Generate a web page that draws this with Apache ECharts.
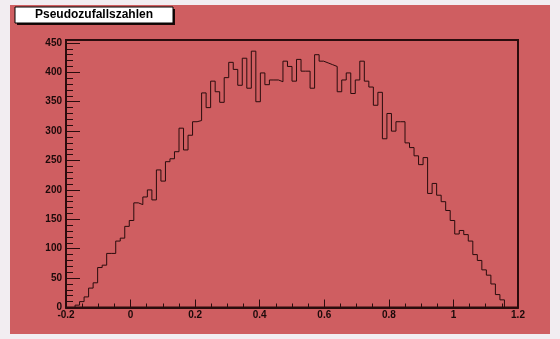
<!DOCTYPE html>
<html>
<head>
<meta charset="utf-8">
<title>Pseudozufallszahlen</title>
<script src="https://cdn.jsdelivr.net/npm/echarts@6/dist/echarts.min.js"></script>
<style>
  html, body { margin: 0; padding: 0; background: #f2edf1; }
  #chart { width: 560px; height: 339px; }
</style>
</head>
<body>
<div id="chart"></div>
<script>
// Histogram range and binning
const histTitle = 'Pseudozufallszahlen';
const binLow = -0.2;
const binHigh = 1.2;
const nBins = 100;

// Entries per bin
const binCounts = [
  0, 0, 4, 10, 18, 33, 42, 68, 72, 92,
  92, 113, 118, 138, 148, 178, 175, 188, 200, 183,
  234, 215, 248, 253, 265, 305, 268, 293, 316, 318,
  365, 340, 385, 367, 349, 391, 417, 405, 378, 424,
  373, 436, 350, 399, 379, 387, 387, 384, 419, 410,
  385, 422, 402, 402, 373, 430, 419, 416, 413, 410,
  367, 387, 399, 364, 387, 419, 385, 375, 344, 366,
  287, 330, 300, 316, 316, 280, 272, 258, 243, 255,
  194, 211, 191, 180, 165, 148, 125, 131, 124, 113,
  90, 80, 64, 55, 40, 22, 13, 0, 0, 0
];

// Axis ranges
const xTicks = { min: -0.2, max: 1.2, step: 0.2 };
const yTicks = { min: 0, max: 455, step: 50 };

const binWidth = (binHigh - binLow) / nBins;
const stepPoints = binCounts.map((c, i) => [binLow + i * binWidth, c]);
stepPoints.push([binHigh, 0]);

const padColor = '#cf5e61';
const inkColor = '#2a0c0d';
const labelFont = { fontFamily: 'Liberation Sans', fontWeight: 'bold', fontSize: 10, color: '#1c0a0a' };

const chart = echarts.init(document.getElementById('chart'), null, { renderer: 'canvas' });

chart.setOption({
  animation: false,
  backgroundColor: '#f2edf1',
  graphic: [
    // coloured pad
    { type: 'rect', z: -10, shape: { x: 10, y: 5, width: 540, height: 329 }, style: { fill: padColor } },
    // title box shadow and box
    { type: 'rect', z: 10, shape: { x: 17, y: 9, width: 158, height: 16 }, style: { fill: '#1a0808' } },
    { type: 'rect', z: 11, shape: { x: 15, y: 7, width: 158, height: 16 }, style: { fill: '#ffffff', stroke: '#000000', lineWidth: 1 } },
    { type: 'text', z: 12, x: 94, y: 15,
      style: { text: histTitle, fill: '#000000', font: 'bold 12px "Liberation Sans"', align: 'center', verticalAlign: 'middle' } }
  ],
  grid: {
    left: 66, right: 42, top: 40, bottom: 31.5,
    show: true, backgroundColor: 'transparent', borderColor: inkColor, borderWidth: 2
  },
  xAxis: {
    type: 'value',
    min: xTicks.min, max: xTicks.max, interval: xTicks.step,
    axisLine: { show: true, onZero: false, lineStyle: { color: inkColor, width: 2 } },
    axisTick: { show: true, inside: true, length: 8, lineStyle: { color: inkColor, width: 1 } },
    minorTick: { show: true, splitNumber: 4, length: 4, lineStyle: { color: inkColor, width: 1 } },
    splitLine: { show: false },
    axisLabel: Object.assign({ margin: 3, formatter: v => String(parseFloat(v.toFixed(2))) }, labelFont)
  },
  yAxis: {
    type: 'value',
    min: yTicks.min, max: yTicks.max, interval: yTicks.step,
    axisLine: { show: true, onZero: false, lineStyle: { color: inkColor, width: 2 } },
    axisTick: { show: true, inside: true, length: 14, lineStyle: { color: inkColor, width: 1 } },
    minorTick: { show: true, splitNumber: 5, length: 7, lineStyle: { color: inkColor, width: 1 } },
    splitLine: { show: false },
    axisLabel: Object.assign({ margin: 4, showMaxLabel: false }, labelFont)
  },
  series: [{
    type: 'line',
    step: 'end',
    data: stepPoints,
    symbol: 'none',
    lineStyle: { color: inkColor, width: 1 },
    silent: true
  }]
});
</script>
</body>
</html>
